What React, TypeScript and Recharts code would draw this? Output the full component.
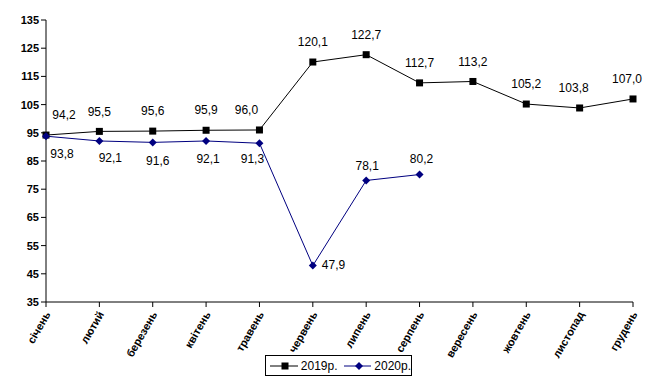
import React from "react";
import { LineChart, Line, XAxis, YAxis, LabelList } from "recharts";

document.body.style.margin = "0";

const months = [
  "січень",
  "лютий",
  "березень",
  "квітень",
  "травень",
  "червень",
  "липень",
  "серпень",
  "вересень",
  "жовтень",
  "листопад",
  "грудень",
];
const y2019 = [94.2, 95.5, 95.6, 95.9, 96.0, 120.1, 122.7, 112.7, 113.2, 105.2, 103.8, 107.0];
const y2020 = [93.8, 92.1, 91.6, 92.1, 91.3, 47.9, 78.1, 80.2];
const yTicks = [35, 45, 55, 65, 75, 85, 95, 105, 115, 125, 135];

const data = months.map((m, i) => ({
  month: m,
  a: y2019[i],
  b: i < y2020.length ? y2020[i] : null,
}));

const fmt = (v: number) => v.toFixed(1).replace(".", ",");

// label nudges (dx, dy) relative to the point
const nudge2019: Record<number, [number, number]> = { 0: [18, 0], 4: [-13, 0], 10: [-6, 0], 11: [-6, 0] };
const nudge2020: Record<number, [number, number]> = {
  0: [16, 19],
  1: [11, 18],
  2: [5, 19],
  3: [2, 19],
  4: [-7, 17],
  5: [9, 0],
  6: [1, -14],
  7: [2, -15],
};

const Square = (props: any) => {
  const { cx, cy } = props;
  if (cx == null || cy == null) return null;
  return <rect x={cx - 3.5} y={cy - 3.5} width={7} height={7} fill="#000" />;
};

const Diamond = (props: any) => {
  const { cx, cy, value } = props;
  if (cx == null || cy == null || value == null) return null;
  return (
    <polygon
      points={`${cx},${cy - 4} ${cx + 4},${cy} ${cx},${cy + 4} ${cx - 4},${cy}`}
      fill="#000080"
    />
  );
};

const label2019 = (props: any) => {
  const { x, y, value, index } = props;
  const [dx, dy] = nudge2019[index] ?? [0, 0];
  return (
    <text x={x + dx} y={y - 19 + dy} textAnchor="middle" dominantBaseline="middle" fontSize={12} fill="#000">
      {fmt(value)}
    </text>
  );
};

const label2020 = (props: any) => {
  const { x, y, value, index } = props;
  if (value == null) return null;
  const [dx, dy] = nudge2020[index] ?? [0, 18];
  return (
    <text
      x={x + dx}
      y={y + dy}
      textAnchor={index === 5 ? "start" : "middle"}
      dominantBaseline="middle"
      fontSize={12}
      fill="#000"
    >
      {fmt(value)}
    </text>
  );
};

const MonthTick = (props: any) => {
  const { x, y, payload } = props;
  return (
    <g transform={`translate(${x},${y})`}>
      <text
        x={-2}
        y={4}
        textAnchor="end"
        dominantBaseline="middle"
        transform="rotate(-60)"
        fontSize={11}
        fontWeight="bold"
        fill="#000"
      >
        {payload.value}
      </text>
    </g>
  );
};

export default function App() {
  return (
    <div
      style={{
        position: "relative",
        width: 648,
        height: 385,
        background: "#fff",
        fontFamily: "'Liberation Sans', Arial, sans-serif",
      }}
    >
      <LineChart width={648} height={385} data={data} margin={{ top: 20, right: 15, bottom: 28, left: 6 }}>
        <XAxis
          dataKey="month"
          interval={0}
          padding={{ left: 0, right: 0 }}
          axisLine={{ stroke: "#000" }}
          tickLine={{ stroke: "#000" }}
          tickSize={5}
          tick={<MonthTick />}
          height={55}
        />
        <YAxis
          domain={[35, 135]}
          ticks={yTicks}
          interval={0}
          width={40}
          axisLine={{ stroke: "#000" }}
          tickLine={{ stroke: "#000" }}
          tickSize={5}
          tick={{ fontSize: 11, fontWeight: "bold", fill: "#000" }}
        />
        <Line
          dataKey="a"
          stroke="#000"
          strokeWidth={1}
          dot={<Square />}
          activeDot={false}
          isAnimationActive={false}
        >
          <LabelList dataKey="a" content={label2019} />
        </Line>
        <Line
          dataKey="b"
          stroke="#000080"
          strokeWidth={1}
          dot={<Diamond />}
          activeDot={false}
          connectNulls={false}
          isAnimationActive={false}
        >
          <LabelList dataKey="b" content={label2020} />
        </Line>
      </LineChart>
      <div
        style={{
          position: "absolute",
          left: 265,
          top: 355,
          width: 147,
          height: 21,
          border: "1px solid #000",
          boxSizing: "border-box",
          display: "flex",
          alignItems: "center",
          paddingLeft: 4,
          fontSize: 12,
          color: "#000",
        }}
      >
        <svg width={30} height={10}>
          <line x1={0} y1={5} x2={30} y2={5} stroke="#000" />
          <rect x={11.5} y={1.5} width={7} height={7} fill="#000" />
        </svg>
        <span style={{ marginLeft: 3, marginRight: 6 }}>2019р.</span>
        <svg width={30} height={10}>
          <line x1={0} y1={5} x2={30} y2={5} stroke="#000080" />
          <polygon points="15,1 19,5 15,9 11,5" fill="#000080" />
        </svg>
        <span style={{ marginLeft: 3 }}>2020р.</span>
      </div>
    </div>
  );
}
